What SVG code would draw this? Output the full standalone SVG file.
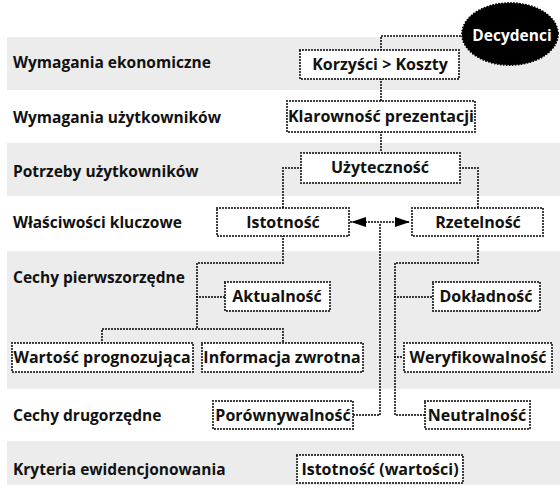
<svg xmlns="http://www.w3.org/2000/svg" width="560" height="490" viewBox="0 0 560 490">
  <style>
    .band { fill: #ececec; }
    .lbl { font-family: "Open Sans", "Liberation Sans", sans-serif; font-weight: 700; font-size: 15.5px; fill: #111; }
    .box { fill: #fff; stroke: #000; stroke-width: 2; stroke-dasharray: 0 3; stroke-linecap: round; }
    .txt { font-family: "Open Sans", "Liberation Sans", sans-serif; font-weight: 700; font-size: 16px; fill: #111; text-anchor: middle; }
    .wire { fill: none; stroke: #000; stroke-width: 2; stroke-dasharray: 0 3; stroke-linecap: round; }
  </style>
  <defs>
    <marker id="arrow" viewBox="0 0 15 10" refX="15" refY="5" markerWidth="15" markerHeight="10" markerUnits="userSpaceOnUse" orient="auto-start-reverse">
      <path d="M0,0 L15,5 L0,10 Z" fill="#000"/>
    </marker>
  </defs>

  <!-- background bands -->
  <g id="bands">
    <rect class="band" x="7" y="37" width="553" height="53"/>
    <rect class="band" x="7" y="143" width="553" height="53"/>
    <rect class="band" x="7" y="251" width="553" height="138"/>
    <rect class="band" x="7" y="441" width="553" height="44"/>
  </g>

  <!-- row labels -->
  <g id="labels">
    <text class="lbl" x="13" y="68">Wymagania ekonomiczne</text>
    <text class="lbl" x="13" y="123">Wymagania użytkowników</text>
    <text class="lbl" x="13" y="177">Potrzeby użytkowników</text>
    <text class="lbl" x="13" y="228">Właściwości kluczowe</text>
    <text class="lbl" x="13" y="283">Cechy pierwszorzędne</text>
    <text class="lbl" x="13" y="421">Cechy drugorzędne</text>
    <text class="lbl" x="13" y="475">Kryteria ewidencjonowania</text>
  </g>

  <!-- connectors -->
  <g id="connectors">
    <path class="wire" d="M381,50 V36 H462"/>
    <path class="wire" d="M381,79 V101"/>
    <path class="wire" d="M381,132 V153"/>
    <path class="wire" d="M301,168 H283 V208"/>
    <path class="wire" d="M460,168 H478 V208"/>
    <path class="wire" d="M351,222 H410" marker-start="url(#arrow)" marker-end="url(#arrow)"/>
    <path class="wire" d="M380,225 V415 H353"/>
    <path class="wire" d="M283,236 V263 H197 V329"/>
    <path class="wire" d="M197,297 H225"/>
    <path class="wire" d="M102,343 V329 H283 V343"/>
    <path class="wire" d="M478,236 V263 H395 V415 H425"/>
    <path class="wire" d="M395,297 H433"/>
    <path class="wire" d="M395,357 H404"/>
  </g>

  <!-- nodes -->
  <g id="decydenci">
    <ellipse cx="510" cy="34" rx="48" ry="31" fill="#000" stroke="#000" stroke-width="2" stroke-dasharray="0 3" stroke-linecap="round"/>
    <text class="txt" x="512" y="41" style="fill:#fff;font-size:15.5px">Decydenci</text>
  </g>
  <g id="korzysci">
    <rect class="box" x="300" y="50" width="159" height="29"/>
    <text class="txt" x="380" y="70">Korzyści &gt; Koszty</text>
  </g>
  <g id="klarownosc">
    <rect class="box" x="287" y="101" width="188" height="31"/>
    <text class="txt" x="381" y="122">Klarowność prezentacji</text>
  </g>
  <g id="uzytecznosc">
    <rect class="box" x="301" y="153" width="159" height="30"/>
    <text class="txt" x="380" y="173">Użyteczność</text>
  </g>
  <g id="istotnosc">
    <rect class="box" x="217" y="208" width="132" height="28"/>
    <text class="txt" x="283" y="228">Istotność</text>
  </g>
  <g id="rzetelnosc">
    <rect class="box" x="412" y="208" width="131" height="28"/>
    <text class="txt" x="478" y="228">Rzetelność</text>
  </g>
  <g id="aktualnosc">
    <rect class="box" x="225" y="282" width="105" height="29"/>
    <text class="txt" x="277" y="302">Aktualność</text>
  </g>
  <g id="dokladnosc">
    <rect class="box" x="433" y="282" width="107" height="29"/>
    <text class="txt" x="486" y="302">Dokładność</text>
  </g>
  <g id="wartosc-prognozujaca">
    <rect class="box" x="12" y="343" width="181" height="29"/>
    <text class="txt" x="102" y="363">Wartość prognozująca</text>
  </g>
  <g id="informacja-zwrotna">
    <rect class="box" x="202" y="343" width="161" height="29"/>
    <text class="txt" x="282" y="363">Informacja zwrotna</text>
  </g>
  <g id="weryfikowalnosc">
    <rect class="box" x="404" y="343" width="148" height="29"/>
    <text class="txt" x="478" y="363">Weryfikowalność</text>
  </g>
  <g id="porownywalnosc">
    <rect class="box" x="213" y="401" width="140" height="28"/>
    <text class="txt" x="283" y="421">Porównywalność</text>
  </g>
  <g id="neutralnosc">
    <rect class="box" x="425" y="401" width="105" height="28"/>
    <text class="txt" x="477" y="421">Neutralność</text>
  </g>
  <g id="istotnosc-wartosci">
    <rect class="box" x="297" y="455" width="166" height="28"/>
    <text class="txt" x="380" y="475">Istotność (wartości)</text>
  </g>
</svg>
